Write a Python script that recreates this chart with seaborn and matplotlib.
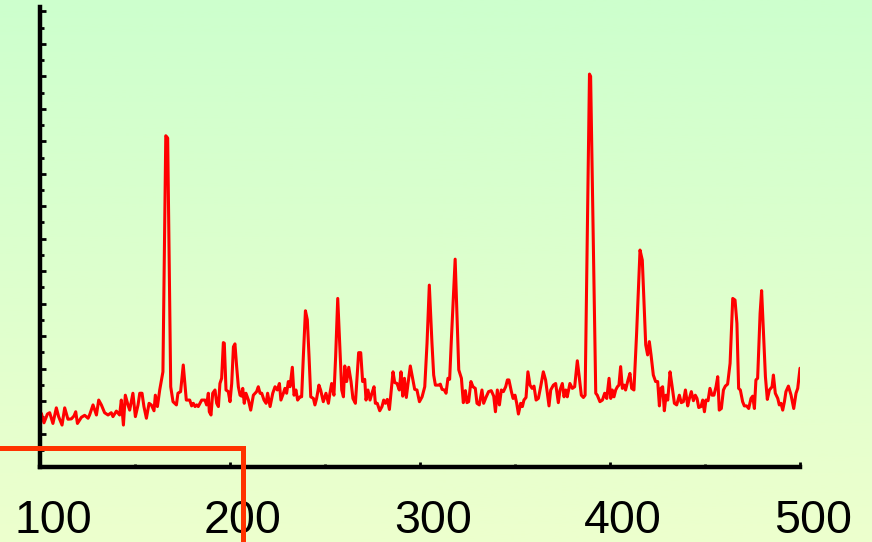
import numpy as np
import matplotlib
matplotlib.use("Agg")
import matplotlib.pyplot as plt
import seaborn as sns
from matplotlib.ticker import MultipleLocator
from matplotlib.patches import Rectangle
from matplotlib.transforms import ScaledTranslation

# ---- data ----
two_theta = [
    100, 100.7, 102.1, 103.9, 105.1, 106.8, 108.6, 109.8, 111.6, 113, 114.7, 116.5, 117.9, 118.8,
    119.7, 121.8, 123.5, 125.3, 126.1, 127.9, 129.7, 130.9, 132.3, 134, 135.8, 137.5, 138.4, 140.2,
    141.9, 142.8, 143.9, 144.9, 146.3, 147.2, 148.9, 150.2, 151.6, 152.5, 153.7, 154.7, 156, 157.4,
    158.6, 160, 160.7, 161.8, 163, 164.7, 166.2, 167.2, 168.8, 170, 171.8, 172.6, 174, 175.4, 177,
    178.8, 179.8, 180.7, 181.6, 182.5, 183.3, 185.1, 186.8, 187.7, 188.6, 189.1, 190, 190.9, 192.1,
    193, 193.9, 194.7, 195.6, 196.5, 197, 197.9, 199.1, 200, 200.9, 201.8, 202.6, 203.5, 204.4,
    205.3, 206.1, 206.7, 207.5, 208.4, 209.7, 210.9, 212.3, 214, 214.9, 215.8, 216.7, 217.9, 219,
    219.8, 221.1, 222.5, 223.7, 224.9, 226, 226.8, 228.1, 228.9, 229.8, 230.7, 231.6, 232.8, 233.7,
    234.7, 235.6, 236.8, 237.7, 238.6, 239.7, 240.7, 241.6, 242.5, 243.9, 244.7, 245.6, 246.8,
    247.7, 249.1, 250.5, 251.8, 252.6, 253.5, 254.7, 255.6, 256.7, 257.9, 258.8, 259.7,
    260.4, 261.4, 262.5, 263.7, 264.7, 266, 266.8, 267.7, 268.8, 269.8, 270.9, 271.6, 272.6, 273.7,
    274.7, 275.8, 276.5, 277.5, 278.8, 280, 280.9, 281.8, 282.8, 283.9, 284.9, 285.8, 286.7, 287.9,
    289.1, 290, 290.9, 291.8, 292.8, 293.7, 294.9, 296.1, 297.2, 298.4, 299.7, 301.1, 302.5, 303.7,
    304.9, 306.3, 307.2, 308.1, 309.8, 310.7, 311.6, 312.8, 313.7, 314.7, 315.6, 316.5, 318.5,
    320.4, 321.8, 322.8, 323.9, 324.7, 325.6, 326.8, 327.9, 329.1, 330, 331.2, 332.6, 333.5, 334.7,
    336.1, 337.5, 338.8,
    339.7, 340.7, 341.8, 342.8, 343.9, 345.1, 346, 346.8, 348.1, 349, 350, 350.9, 351.8, 353,
    353.9, 354.7, 355.8, 356.8, 357.9, 359, 360, 361.1, 362.3, 363.5, 364.9, 366.1, 367, 367.9,
    368.8, 370.2, 371.4, 372.8, 373.7, 374.9, 375.8, 376.7, 377.5, 378.9, 380.2, 381.4, 382.8,
    383.7, 384.9, 386, 386.9, 389.2, 389.8, 392.5, 393.3, 394.7, 396, 397.2, 398.3, 399.5, 400.4,
    401.2, 402.1, 403, 403.9, 404.7, 405.6, 406.5, 407.4, 408.2, 409.5, 410.5, 411.4, 412.6, 414,
    415.8, 417, 418.8,
    419.8, 420.7, 421.6, 422.8, 424, 425.1, 426, 426.8, 427.7, 428.6, 429.5, 430.4, 431.6, 432.6,
    433.9, 435.1, 436.5, 437.5, 438.6, 439.7, 440.9, 441.8, 442.8, 443.9, 444.9, 445.8, 446.7,
    447.9, 448.8, 449.7, 450.5, 451.6, 452.6, 453.7, 454.7, 455.8, 456.7, 457.5, 458.6, 459.7,
    460.7, 461.9, 463.2, 464.6, 465.8, 466.8, 467.7, 468.6, 469.8, 470.7, 471.9, 473, 474.2, 475.1,
    476, 476.8, 477.7, 479, 479.8, 480.7, 481.8, 482.8, 483.9, 485.3, 486, 487, 488.3, 489.1, 490,
    490.9, 491.8, 492.6, 493.9, 495.3, 496.7, 497.9, 498.8, 500,
]
intensity = [
    152, 162, 133, 160, 164, 131, 179, 152, 126, 179, 144, 145, 154, 167,
    131, 150, 156, 147, 157, 188, 157, 203, 188, 164, 157, 164, 152, 169,
    157, 203, 126, 218, 188, 172, 224, 152, 188, 224, 224, 183, 147, 193,
    188, 170, 218, 183, 234, 290, 1017, 1010, 244, 198, 188, 224, 229, 311, 203,
    203, 185, 193, 183, 188, 183, 203, 203, 188, 224, 167, 157, 224, 234,
    193, 183, 254, 270, 380, 378, 234, 229, 198, 254, 367, 376, 306, 244,
    218, 215, 239, 193, 224, 203, 172, 218, 229, 244, 224, 224, 203, 193,
    224, 183, 224, 244, 234, 254, 203, 224, 239, 224, 260, 244, 304, 218,
    234, 203, 213, 213, 337, 478, 450, 337, 213, 208, 188, 208, 249,
    234, 198, 224, 193, 224, 254, 218, 337, 516, 357, 234, 213,
    308, 260, 304, 260, 208, 193, 265, 349, 349, 260, 267, 203, 234, 203,
    224, 244, 193, 193, 170, 183, 203, 193, 205, 174, 234, 290, 257, 254,
    234, 290, 215, 270, 211, 254, 308, 270, 236, 234, 198, 213, 244, 378,
    557, 378, 280, 249, 249, 252, 236, 234, 224, 270, 267, 388, 637,
    296, 270, 195, 232, 195, 198, 260, 244, 239, 193, 188, 234, 193, 211,
    229, 232, 215,
    167, 234, 188, 234, 229, 244, 265, 265, 229, 208, 218, 193, 160, 193,
    183, 203, 211, 290, 249, 239, 246, 203, 208, 244, 290, 265, 224, 185,
    234, 249, 254, 195, 234, 254, 213, 234, 213, 254, 239, 244, 324,
    280, 218, 211, 218, 1207, 1200, 224, 218, 198, 203, 224, 208, 270, 208,
    234, 213, 234, 244, 249, 306, 239, 249, 234, 265, 285, 239, 234, 408,
    665, 634, 373,
    342, 383, 342, 280, 260, 260, 185, 239, 244, 170, 218, 203, 290, 249,
    193, 188, 218, 195, 198, 234, 185, 208, 229, 201, 218, 208, 180,
    183, 203, 167, 203, 201, 239, 218, 218, 244, 275, 172, 177, 234,
    246, 252, 316, 516, 511, 439, 239, 234, 198, 185, 185, 177, 208, 215,
    177, 265, 270, 470, 540, 419, 275, 205, 234, 244, 280, 224, 208, 188, 193,
    172, 198, 229, 246, 218, 177, 224, 239, 301,
]
xtick_values = [100, 200, 300, 400, 500]
xtick_labels = ["100", "200", "300", "400", "500"]

# ---- styling ----
sns.set_theme(style="ticks")
plt.rcParams["font.family"] = ["Liberation Sans", "DejaVu Sans"]

W, H = 872, 542
fig = plt.figure(figsize=(W / 100, H / 100), dpi=100)

# gradient background
bg = fig.add_axes([0, 0, 1, 1], zorder=-10)
bg.axis("off")
top = np.array([205, 255, 205]) / 255.0
bottom = np.array([237, 255, 205]) / 255.0
t = np.linspace(0, 1, 256)[:, None, None]
img = top * (1 - t) + bottom * t
bg.imshow(img, aspect="auto", extent=[0, 1, 0, 1], interpolation="bilinear")

ax_left, ax_right = 40, 800
ax_top, ax_bottom = 7, 467.3
ax = fig.add_axes([ax_left / W, 1 - ax_bottom / H, (ax_right - ax_left) / W, (ax_bottom - ax_top) / H])
ax.patch.set_alpha(0)

sns.lineplot(x=two_theta, y=intensity, color="#FF0000", linewidth=2.2, ax=ax)

ax.set_xlim(100, 500)
ax.set_ylim(-4.1, 1413.6)
ax.set_xlabel("")
ax.set_ylabel("")

for s in ["top", "right"]:
    ax.spines[s].set_visible(False)
for s in ["left", "bottom"]:
    ax.spines[s].set_linewidth(3.2)
    ax.spines[s].set_color("black")

ax.set_xticks(xtick_values, labels=xtick_labels)
ax.xaxis.set_minor_locator(MultipleLocator(50))
ax.yaxis.set_major_locator(MultipleLocator(100))
ax.yaxis.set_minor_locator(MultipleLocator(50))
ax.tick_params(axis="y", which="major", direction="in", length=4.5, width=2, color="black", labelleft=False)
ax.tick_params(axis="y", which="minor", direction="in", length=2.9, width=2, color="black")
ax.tick_params(axis="x", which="major", direction="in", length=3.6, width=2, color="black",
               labelsize=33.5, pad=23, labelcolor="black")
ax.tick_params(axis="x", which="minor", direction="in", length=2.2, width=2, color="black")

# tick labels sit slightly to the right of their ticks in the reference
shift = ScaledTranslation(13 / 100, 0, fig.dpi_scale_trans)
for lab in ax.get_xticklabels():
    lab.set_transform(lab.get_transform() + shift)

# highlight box in the lower-left corner
box_x1 = 243 / W
box_y1 = 1 - 448 / H
fig.add_artist(Rectangle((-0.05, -0.05), box_x1 + 0.05, box_y1 + 0.05, transform=fig.transFigure,
                         fill=False, edgecolor="#FF3300", linewidth=3.6, zorder=20))

fig.savefig("out.png", dpi=100)
